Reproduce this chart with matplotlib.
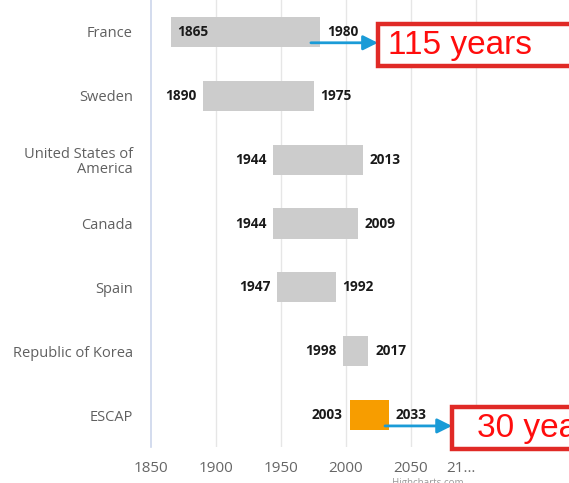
import matplotlib
matplotlib.use("Agg")
import matplotlib.pyplot as plt
from matplotlib.patches import Rectangle, FancyArrowPatch
from matplotlib.transforms import offset_copy

countries = ["France", "Sweden", "United States of\nAmerica", "Canada", "Spain",
             "Republic of Korea", "ESCAP"]
start_years = [1865, 1890, 1944, 1944, 1947, 1998, 2003]
end_years = [1980, 1975, 2013, 2009, 1992, 2017, 2033]
bar_colors = ["#cccccc"] * 6 + ["#f79d00"]
tick_values = [1850, 1900, 1950, 2000, 2050, 2100]
tick_labels = ["1850", "1900", "1950", "2000", "2050", "21…"]
callout_rows = [0, 6]
callout_texts = ["115 years", "30 years"]

W, H = 569, 483
fig = plt.figure(figsize=(W / 100, H / 100), dpi=100)
ax = fig.add_axes([151 / W, 1 - 447 / H, (515 - 151) / W, 447 / H])
ax.set_xlim(1850, 2130)
ax.set_ylim(len(countries) - 0.5, -0.5)

font = "Open Sans"
for x in tick_values[1:]:
    ax.axvline(x, color="#e6e6e6", lw=1, zorder=0)
for s in ["top", "right", "bottom"]:
    ax.spines[s].set_visible(False)
ax.spines["left"].set_color("#ccd6eb")
ax.spines["left"].set_linewidth(1.2)

ys = list(range(len(countries)))
ax.barh(ys, [e - s for s, e in zip(start_years, end_years)], left=start_years,
        height=0.47, color=bar_colors, zorder=2)

ax.set_yticks(ys)
ax.set_yticklabels(countries, fontsize=10.5, color="#606060", family=font,
                   ha="right", linespacing=1.05)
ax.tick_params(axis="y", length=0, pad=13)
ax.set_xticks(tick_values)
ax.set_xticklabels(tick_labels, fontsize=11, color="#666666", family=font)
ax.tick_params(axis="x", length=0, pad=10)
ax.get_xticklabels()[-1].set_ha("right")

fig.canvas.draw()
renderer = fig.canvas.get_renderer()
for y, s, e in zip(ys, start_years, end_years):
    tl = ax.text(s, y, str(s), ha="right", va="center", fontsize=9.8,
                 fontweight="bold", family=font, color="#1a1a1a", zorder=4,
                 transform=offset_copy(ax.transData, fig=fig, x=-7, y=0, units="dots"))
    bb = tl.get_window_extent(renderer)
    if bb.x0 < ax.get_window_extent(renderer).x0:
        tl.set_transform(offset_copy(ax.transData, fig=fig, x=7, y=0, units="dots"))
        tl.set_ha("left")
    ax.text(e, y, str(e), ha="left", va="center", fontsize=9.8,
            fontweight="bold", family=font, color="#1a1a1a", zorder=4,
            transform=offset_copy(ax.transData, fig=fig, x=7, y=0, units="dots"))

text_offsets = [7.5, 19.5]  # in years (style)
for row, txt, toff in zip(callout_rows, callout_texts, text_offsets):
    e = end_years[row]
    y_arrow = row + 0.17
    x0 = e - 7 if row == 0 else e - 3
    x1 = x0 + 51.5
    arr = FancyArrowPatch((x0, y_arrow), (x1, y_arrow), arrowstyle="-|>",
                          mutation_scale=22, color="#1a9bd7", lw=2,
                          shrinkA=0, shrinkB=0, clip_on=False, zorder=5)
    ax.add_patch(arr)
    rect = Rectangle((x1, row + 0.2 - 0.33), 200, 0.66, fill=True,
                     facecolor="white", edgecolor="#e02a26", lw=3.2,
                     clip_on=False, zorder=5)
    ax.add_patch(rect)
    ax.text(x1 + toff, row + 0.21, txt, ha="left", va="center", fontsize=24,
            family="Liberation Sans", color="#ff0d0d", clip_on=False, zorder=6)

fig.text(392 / W, 1 - 478 / H, "Highcharts.com", fontsize=7, color="#999999",
         va="top", ha="left", family=font)

fig.savefig("out.png", dpi=100)
